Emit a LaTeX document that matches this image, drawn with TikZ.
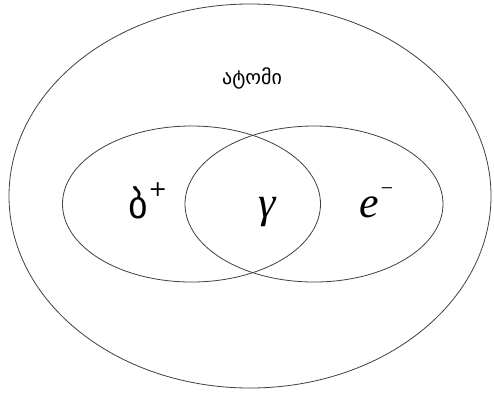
\documentclass[tikz,border=0pt]{standalone}
\usepackage{fontspec}
\usetikzlibrary{shapes.geometric}
\newfontfamily\geofont[Script=Georgian]{DejaVu Sans}
\newfontfamily\timesfont{Liberation Serif}
\newcommand\supmark[2]{\raisebox{#1}{\fontsize{22}{22}\selectfont #2}}
\begin{document}
\begin{tikzpicture}[x=1pt,y=-1pt,
  ring/.style={draw=black!75,line width=0.8pt,ellipse,inner sep=0pt},
  biglabel/.style={font=\timesfont\itshape\fontsize{44}{48}\selectfont,inner sep=0pt,anchor=base},
  geolabel/.style={font=\geofont\fontsize{38}{40}\selectfont,inner sep=0pt,anchor=base},
  smalllabel/.style={font=\geofont\fontsize{20}{22}\selectfont,inner sep=0pt}]
\useasboundingbox[fill=white] (0,0) rectangle (494,392);
\node[ring,minimum width=482pt,minimum height=384pt] (atom) at (250,196) {};
\node[ring,minimum width=258pt,minimum height=156pt] (left) at (191.5,204) {};
\node[ring,minimum width=258pt,minimum height=156pt] (right) at (314,204) {};
\node[smalllabel] (atomlabel) at (252,78) {ატომი};
\node[geolabel] (proton) at (148,218) {ბ\supmark{22pt}{+}};
\node[biglabel] (gamma) at (267,217) {γ};
\node[biglabel] (electron) at (377,217) {e\supmark{22pt}{−}};
\end{tikzpicture}
\end{document}
